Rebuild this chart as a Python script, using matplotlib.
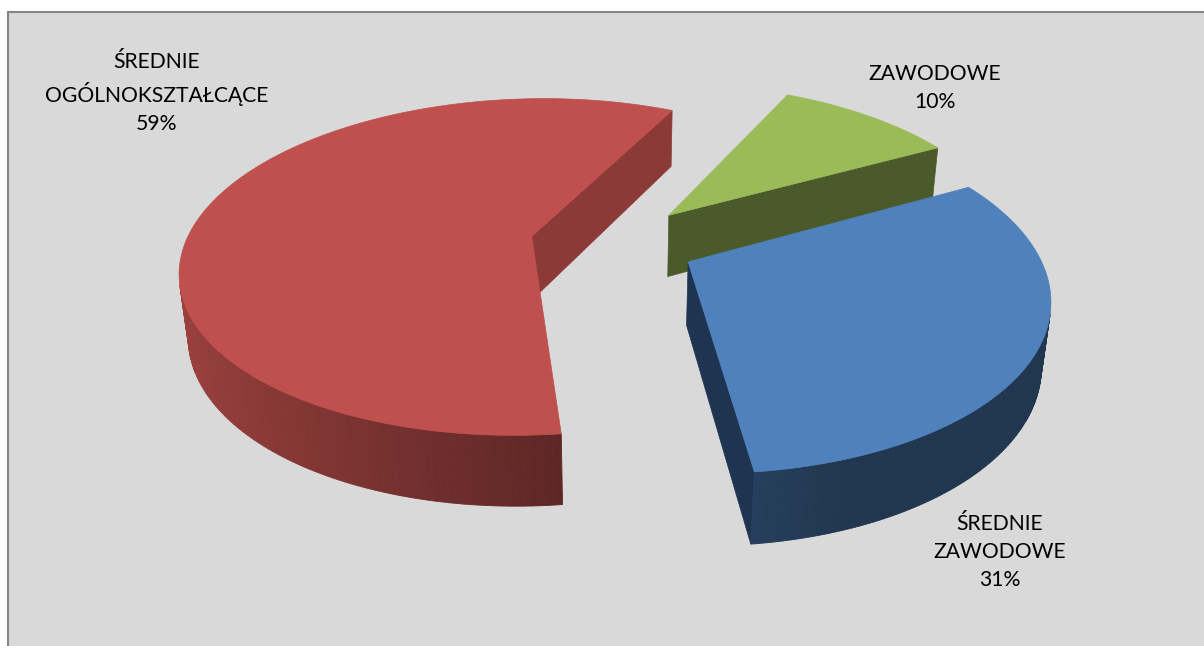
import numpy as np
import matplotlib.pyplot as plt
from matplotlib.patches import Polygon, Rectangle

# slices, clockwise from the start angle
categories = ["ZAWODOWE", "ŚREDNIE\nZAWODOWE", "ŚREDNIE\nOGÓLNOKSZTAŁCĄCE"]
shares = [10, 31, 59]

top_colors = ["#9bbb59", "#4f81bd", "#c0504d"]
cut_colors = ["#4b5a2b", "#1f3450", "#8c3a38"]
label_pos = [(935, 88), (1000, 552), (157, 93)]
draw_order = [0, 2, 1]

# view / projection settings (pixel space)
start_deg = 25.9
explode = 0.24
thick = 0.21
phi = np.radians(28.5)
D = 4.8
f = 1662
cx, cy = 613, 243


def project(x, y, z):
    depth = D + y * np.cos(phi) - z * np.sin(phi)
    X = cx + f * x / depth
    Y = cy - f * (y * np.sin(phi) + z * np.cos(phi)) / depth
    return X, Y


def shade(hex_color, k):
    c = np.array([int(hex_color[i:i + 2], 16) for i in (1, 3, 5)]) / 255.0
    return tuple(np.clip(c * k, 0, 1))


fig = plt.figure(figsize=(12.04, 6.46), dpi=100)
ax = fig.add_axes([0, 0, 1, 1])
ax.set_xlim(0, 1204)
ax.set_ylim(646, 0)
ax.axis("off")
fig.patch.set_facecolor("white")

ax.add_patch(Rectangle((8, 12), 1300, 700, facecolor="#d9d9d9",
                       edgecolor="#868686", linewidth=1.5, zorder=0))

total = float(sum(shares))
bounds = np.cumsum([0] + shares) / total * 360 + start_deg
cam = np.array([0, -D * np.cos(phi), D * np.sin(phi)])

z = 1
for i in draw_order:
    a0, a1 = np.radians(bounds[i]), np.radians(bounds[i + 1])
    mid = (a0 + a1) / 2
    ox, oy = explode * np.sin(mid), explode * np.cos(mid)
    th = np.linspace(a0, a1, 200)
    rx, ry = ox + np.sin(th), oy + np.cos(th)

    # radial cut faces
    for a, sign in ((a0, -1), (a1, 1)):
        n = sign * np.array([np.cos(a), -np.sin(a), 0])
        p = np.array([ox + 0.5 * np.sin(a), oy + 0.5 * np.cos(a), 0])
        if np.dot(n, cam - p) > 0:
            ex, ey = ox + np.sin(a), oy + np.cos(a)
            pts = [project(ox, oy, 0), project(ex, ey, 0),
                   project(ex, ey, -thick), project(ox, oy, -thick)]
            ax.add_patch(Polygon(pts, closed=True, facecolor=cut_colors[i],
                                 edgecolor=cut_colors[i], linewidth=0.5, zorder=z))

    # outer curved side, in thin strips
    for k in range(len(th) - 1):
        t = (th[k] + th[k + 1]) / 2
        vis = (-np.sin(t) * ox - np.cos(t) * oy - 1 - D * np.cos(phi) * np.cos(t))
        if vis <= 0:
            continue
        fac = np.clip(0.52 - 0.3 * np.sin(t), 0.42, 0.9)
        col = shade(top_colors[i], fac)
        pts = [project(rx[k], ry[k], 0), project(rx[k + 1], ry[k + 1], 0),
               project(rx[k + 1], ry[k + 1], -thick), project(rx[k], ry[k], -thick)]
        ax.add_patch(Polygon(pts, closed=True, facecolor=col, edgecolor=col,
                             linewidth=0.6, zorder=z))

    # top face
    X, Y = project(np.concatenate([[ox], rx]), np.concatenate([[oy], ry]), 0)
    ax.add_patch(Polygon(np.column_stack([X, Y]), closed=True,
                         facecolor=top_colors[i], edgecolor=top_colors[i],
                         linewidth=0.5, zorder=z + 1))
    z += 2

for i in range(len(categories)):
    pct = round(shares[i] / total * 100)
    ax.text(label_pos[i][0], label_pos[i][1], f"{categories[i]}\n{pct}%",
            ha="center", va="center", fontsize=15.2, family="Lato",
            color="black", linespacing=1.5, zorder=20)

fig.savefig("out.png", dpi=100, facecolor="white")
